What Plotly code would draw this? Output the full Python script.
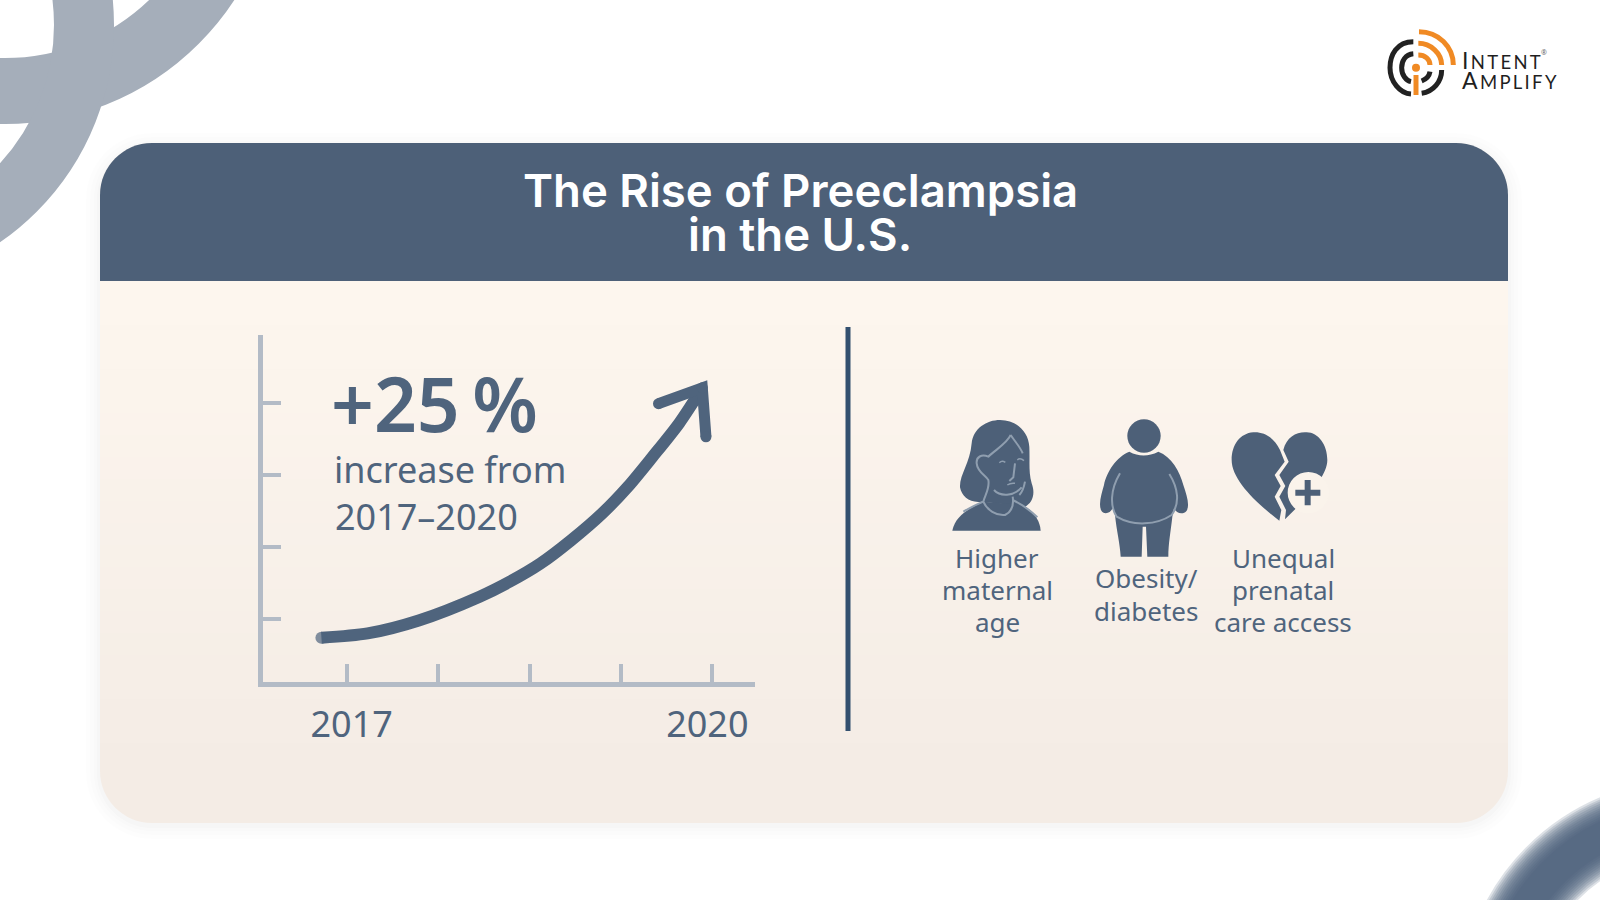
import re
import plotly.graph_objects as go

# ---- chart data ----
curve_years = [2016.79, 2017.17, 2017.59, 2018.09, 2018.34, 2018.59, 2018.84, 2019.10, 2019.31, 2019.51, 2019.73, 2019.92]
curve_index = [0.74, 0.80, 0.98, 1.31, 1.52, 1.77, 2.09, 2.47, 2.84, 3.25, 3.72, 4.21]
head_years = [2019.56, 2019.92, 2019.95]
head_index = [3.99, 4.21, 3.53]
x_ticks = [2017, 2017.75, 2018.5, 2019.25, 2020]
x_labels = ["\u00a02017", "", "", "", "2020\u00a0"]
y_ticks = [1, 2, 3, 4]
factor_labels = [["Higher", "maternal", "age"], ["Obesity/", "diabetes"], ["Unequal", "prenatal", "care access"]]
title_lines = ["The Rise of Preeclampsia", "in the U.S."]

W, H = 1600, 900
SLATE = "#4d6078"
INK = "#4f647d"
AXIS = "#b3bbc6"
FONT = "Noto Sans"


def px(x):
    return x / W


def py(y):
    return 1 - y / H


def conv(d, ox=0.0, oy=0.0, s=1.0):
    """Pixel path -> paper path."""
    out, toks = [], re.findall(r"[A-Za-z]|-?[\d.]+", d)
    i = 0
    while i < len(toks):
        t = toks[i]
        if t.isalpha():
            out.append(t)
            i += 1
        else:
            x, y = float(t), float(toks[i + 1])
            out.append(f"{px(ox + x * s):.5f},{py(oy + y * s):.5f}")
            i += 2
    return " ".join(out)


shapes = []


def path(d, fill=None, line=None, lw=0, ox=0.0, oy=0.0, s=1.0, cap_layer="below"):
    shapes.append(dict(type="path", xref="paper", yref="paper", layer=cap_layer, path=conv(d, ox, oy, s),
                       fillcolor=fill if fill else "rgba(0,0,0,0)",
                       line=dict(color=line if line else "rgba(0,0,0,0)", width=lw)))


def ring(cx, cy, r, lw, color):
    shapes.append(dict(type="circle", xref="paper", yref="paper", layer="below",
                       x0=px(cx - r), x1=px(cx + r), y0=py(cy + r), y1=py(cy - r),
                       fillcolor="rgba(0,0,0,0)", line=dict(color=color, width=lw)))


def rrect(x0, y0, x1, y1, r, tl=True, bl=True):
    k = 0.45 * r
    return (f"M{x0 + r},{y0} L{x1 - r},{y0} C{x1 - k},{y0} {x1},{y0 + k} {x1},{y0 + r} "
            f"L{x1},{y1 - r} C{x1},{y1 - k} {x1 - k},{y1} {x1 - r},{y1} L{x0 + r},{y1} "
            f"C{x0 + k},{y1} {x0},{y1 - k} {x0},{y1 - r} L{x0},{y0 + r} C{x0},{y0 + k} {x0 + k},{y0} {x0 + r},{y0} Z")


# ---- background decoration ----
ring(5, -150, 241, 66, "#a5aeba")
ring(-150, 25, 234, 60, "#a5aeba")
for wd in range(74, 26, -4):
    ring(1690, 1010, 194, wd, "rgba(77,96,120,0.19)")

# ---- card: shadow, body with vertical gradient, header ----
CL, CR, CT, CB, RAD = 100, 1508, 143, 823, 52
for g, a in [(14, .006), (10, .008), (6, .012), (3, .016)]:
    path(rrect(CL - g, CT - g + 4, CR + g, CB + g + 2, RAD + g), fill=f"rgba(60,60,60,{a})")
top, bot = (253, 246, 238), (244, 236, 229)
path(rrect(CL, CT, CR, CB, RAD), fill="rgb(%d,%d,%d)" % bot)
ys = list(range(281, CB - RAD, 22))
for i, y0 in enumerate(ys):
    t = i / (len(ys) - 1)
    c = tuple(round(top[k] + (bot[k] - top[k]) * t) for k in range(3))
    y1 = min(y0 + 23, CB - RAD)
    path(f"M{CL},{y0} L{CR},{y0} L{CR},{y1} L{CL},{y1} Z", fill="rgb(%d,%d,%d)" % c)
k = 0.45 * RAD
path(f"M{CL},281 L{CL},{CT + RAD} C{CL},{CT + k} {CL + k},{CT} {CL + RAD},{CT} L{CR - RAD},{CT} "
     f"C{CR - k},{CT} {CR},{CT + k} {CR},{CT + RAD} L{CR},281 Z", fill=SLATE)

# divider
path("M848,327 L848,731", line="#33506f", lw=5)

# ---- icons (zoomed crop coordinates) ----
IC = dict(ox=920, oy=400, s=1 / 3)
LIGHT = "#8f9eaf"
CARD = "#faf3eb"
path("M155,130 C160,85 200,60 240,60 C290,60 325,95 328,140 C330,185 325,215 335,250 C348,285 335,310 315,320 "
     "L185,305 C150,310 125,290 120,262 C118,225 150,190 155,130 Z", fill=SLATE, **IC)
path("M97,392 C105,350 145,325 190,305 L310,315 C340,335 360,360 362,392 Z", fill=SLATE, **IC)
for d in ["M272,105 C262,130 225,150 205,170 C185,162 168,170 170,190 C172,215 195,225 205,240 C210,265 195,285 190,305 "
          "C200,330 230,348 255,345 C275,335 282,315 278,290",
          "M272,105 C285,125 300,140 308,160",
          "M222,270 C240,290 280,290 305,262",
          "M315,245 C312,262 308,275 298,285",
          "M285,190 L280,232 L268,243",
          "M130,335 Q165,315 190,305", "M278,300 Q320,320 352,352"]:
    path(d, line=LIGHT, lw=2, **IC)
for d in ["M238,188 Q246,180 256,187", "M292,180 Q300,172 312,182", "M262,255 Q272,248 285,250"]:
    path(d, line=LIGHT, lw=1.5, **IC)

shapes.append(dict(type="circle", xref="paper", yref="paper", layer="below",
                   x0=px(920 + 622 / 3), x1=px(920 + 722 / 3), y0=py(400 + 158 / 3), y1=py(400 + 58 / 3),
                   fillcolor=SLATE, line=dict(width=0)))
path("M628,155 Q670,178 715,155 C755,170 780,215 790,255 C800,285 810,315 800,332 C790,345 770,342 762,325 "
     "L757,350 C752,395 745,430 745,470 L682,470 L678,380 L668,380 L665,470 L602,470 C600,430 590,395 585,345 "
     "L578,325 C570,342 550,345 543,330 C535,310 545,280 552,255 C560,215 590,170 628,155 Z", fill=SLATE, **IC)
path("M600,220 C570,270 570,320 590,350 C640,380 710,375 755,345 C780,310 775,265 748,222", line=LIGHT, lw=2, **IC)

path("M1080,150 C1060,110 1030,95 1000,97 C960,100 935,135 935,180 C935,240 1010,310 1078,362 "
     "L1084,330 L1064,290 L1082,258 L1064,225 L1094,185 Z", fill=SLATE, **IC)
path("M1090,150 C1100,110 1130,95 1160,97 C1195,97 1222,135 1222,180 C1222,225 1170,285 1095,358 L1098,330 "
     "L1078,290 L1096,258 L1078,225 L1106,185 Z", fill=SLATE, **IC)
shapes.append(dict(type="circle", xref="paper", yref="paper", layer="below",
                   x0=px(920 + 1103 / 3), x1=px(920 + 1227 / 3), y0=py(400 + 340 / 3), y1=py(400 + 216 / 3),
                   fillcolor=CARD, line=dict(width=0)))
path("M1126,278 L1201,278 M1163,240 L1163,316", line=SLATE, lw=6, **IC)

# ---- logo ----
LG = dict(ox=1340, oy=10, s=1 / 3)
DARK = "#222222"
ORANGE = "#f08a24"
for d in ["M220,95 C170,95 150,135 150,173 C150,215 180,250 213,252",
          "M245,250 C280,245 305,215 305,180",
          "M220,131 C195,133 185,155 185,173 C185,195 198,212 213,215",
          "M245,213 C258,208 268,197 270,185"]:
    path(d, line=DARK, lw=5, **LG)
for d in ["M237,65 C295,65 340,110 340,165", "M235,100 C272,100 305,130 305,165", "M235,135 C255,135 270,148 270,165"]:
    path(d, line=ORANGE, lw=5, **LG)
path("M228,195 L228,255", line=ORANGE, lw=5, **LG)
shapes.append(dict(type="circle", xref="paper", yref="paper", layer="below",
                   x0=px(1340 + 216 / 3), x1=px(1340 + 240 / 3), y0=py(10 + 185 / 3), y1=py(10 + 161 / 3),
                   fillcolor=ORANGE, line=dict(width=0)))

# ---- text ----
annotations = []


def text(s, x, y, size, color=INK, weight=400, font=FONT, anchor="center"):
    annotations.append(dict(text=s, xref="paper", yref="paper", x=px(x), y=py(y), xanchor=anchor, yanchor="middle",
                            showarrow=False, font=dict(family=font, size=size, color=color, weight=weight)))


for line, y in zip(title_lines, [190, 235]):
    text(line, 800, y, 45.5, "#ffffff", 600, "Inter")
text("+25\u2009%", 435, 403, 75, INK, 600)
text("increase from", 450, 469, 36)
text("2017\u20132020", 426, 516, 36)
lab_x = [997, 1146, 1283]
lab_y = [[558, 590, 622], [578, 611], [558, 590, 622]]
for lines, xx, yy in zip(factor_labels, lab_x, lab_y):
    for line, y in zip(lines, yy):
        text(line, xx, y, 26)

hs = "\u2009"
text(f"I<span style='font-size:18.5px'>{hs}N{hs}T{hs}E{hs}N{hs}T</span>", 1460, 60, 23, "#1f1f1f", 400, "Lato", "left")
text(f"A<span style='font-size:18.5px'>{hs}M{hs}P{hs}L{hs}I{hs}F{hs}Y</span>", 1460, 80, 23, "#1f1f1f", 400, "Lato", "left")
text("\u00ae", 1544, 53, 7, "#666666")

# ---- chart ----
fig = go.Figure()
fig.add_trace(go.Scatter(x=curve_years, y=curve_index, mode="lines+markers", showlegend=False, hoverinfo="skip",
                         line=dict(color=INK, width=12, shape="spline", smoothing=0.8),
                         marker=dict(size=[12] + [0] * (len(curve_years) - 1), color=INK, line=dict(width=0))))
fig.add_trace(go.Scatter(x=head_years, y=head_index, mode="lines+markers", showlegend=False, hoverinfo="skip",
                         line=dict(color=INK, width=11),
                         marker=dict(size=11, color=INK, line=dict(width=0))))

fig.update_layout(
    width=W, height=H, autosize=False, margin=dict(l=0, r=0, t=0, b=0),
    paper_bgcolor="#ffffff", plot_bgcolor="rgba(0,0,0,0)", showlegend=False,
    shapes=shapes, annotations=annotations,
    xaxis=dict(domain=[px(263), px(755)], range=[2016.31, 2020.353], showgrid=False, zeroline=False, fixedrange=True,
               automargin=False,
               showline=True, linecolor=AXIS, linewidth=5, ticks="inside", ticklen=18, tickwidth=4, tickcolor=AXIS,
               tickvals=x_ticks, ticktext=x_labels, tickfont=dict(family=FONT, size=36, color=INK),
               ticklabelstandoff=7),
    yaxis=dict(domain=[py(681.5), py(335)], range=[0.132, 4.944], showgrid=False, zeroline=False, fixedrange=True,
               automargin=False,
               showline=True, linecolor=AXIS, linewidth=5, ticks="inside", ticklen=18, tickwidth=4, tickcolor=AXIS,
               tickvals=y_ticks, showticklabels=False),
)
fig.write_html("out.html", config=dict(displayModeBar=False),
               post_script="document.body.style.margin='0';document.body.style.overflow='hidden';")
